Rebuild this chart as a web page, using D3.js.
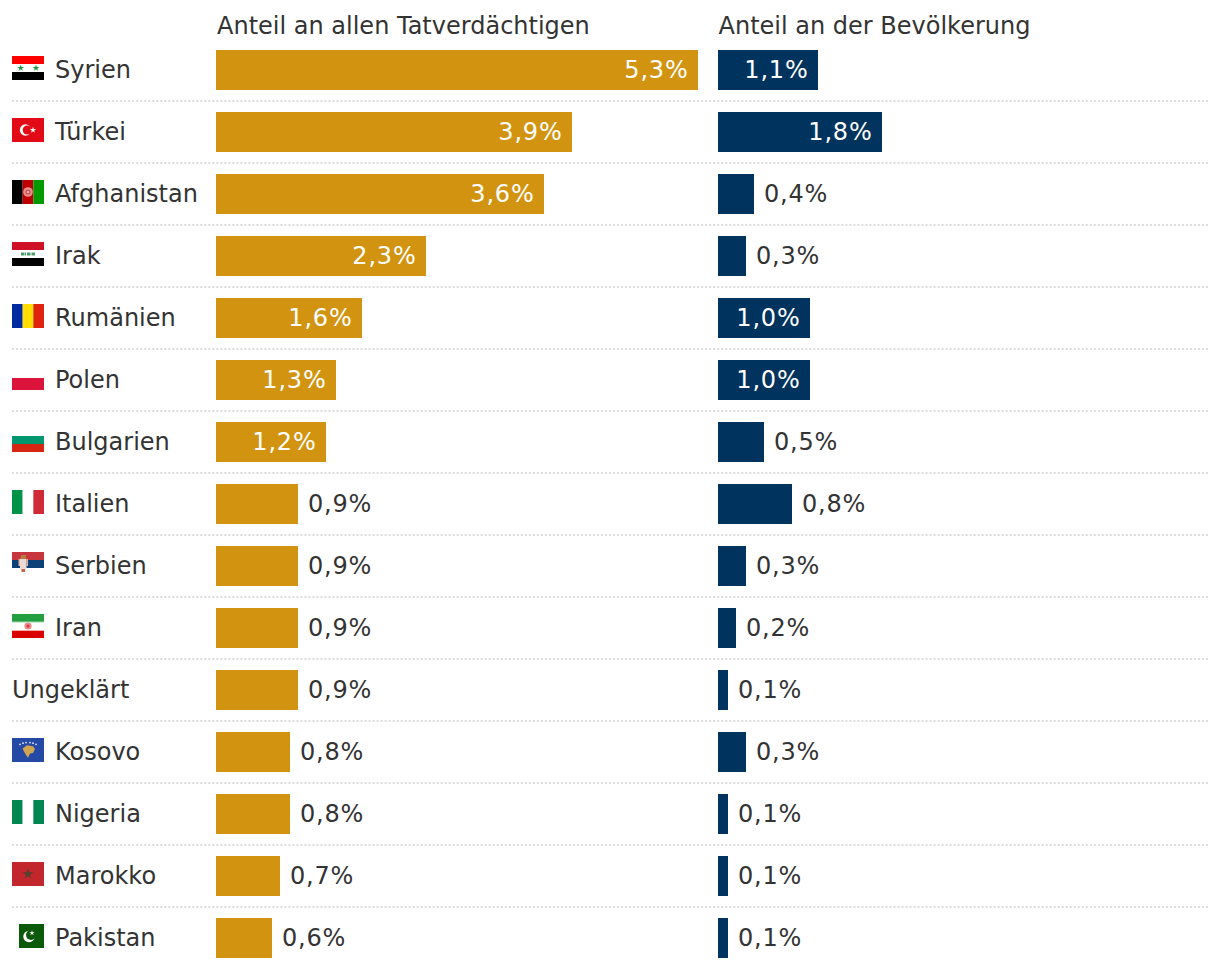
<!DOCTYPE html>
<html><head><meta charset="utf-8">
<style>html,body{margin:0;padding:0;background:#fff}svg{display:block}</style>
<script src="https://cdn.jsdelivr.net/npm/d3@7"></script></head><body>
<svg id="c" width="1220" height="968"></svg>
<script>
const countries=["Syrien","Türkei","Afghanistan","Irak","Rumänien","Polen","Bulgarien","Italien","Serbien","Iran","Ungeklärt","Kosovo","Nigeria","Marokko","Pakistan"];
const suspects=[5.3,3.91,3.61,2.31,1.6,1.32,1.21,0.9,0.9,0.9,0.9,0.81,0.81,0.7,0.62];
const population=[1.1,1.8,0.4,0.31,1.01,1.01,0.51,0.81,0.31,0.2,0.11,0.31,0.11,0.11,0.11];
const headers=["Anteil an allen Tatverdächtigen","Anteil an der Bevölkerung"];
const flagCodes=["sy","tr","af","iq","ro","pl","bg","it","rs","ir",null,"xk","ng","ma","pk"];

const svg=d3.select("#c");
const font="'DejaVu Sans',Verdana,sans-serif";
const y=d3.scalePoint().domain(countries).range([50,918]);
const xL=d3.scaleLinear().domain([0,5.3]).rangeRound([216,698]);
const xR=d3.scaleLinear().domain([0,1.1]).rangeRound([718,818]);
const fmt=v=>d3.format(".1f")(v).replace(".",",")+"%";
const txt=(g,x,yy,s,fill,anchor,ls)=>g.append("text").attr("x",x).attr("y",yy).attr("fill",fill||"#333")
  .attr("text-anchor",anchor||"start").attr("font-family",font).attr("font-size",24).attr("letter-spacing",ls||0).text(s);

txt(svg,217,34,headers[0]);
txt(svg,718.5,34,headers[1]);

// separators
svg.selectAll("line.sep").data(countries.slice(0,-1)).join("line").attr("class","sep")
 .attr("x1",12).attr("x2",1208).attr("y1",d=>y(d)+51).attr("y2",d=>y(d)+51)
 .attr("stroke","#dddddd").attr("stroke-width",2).attr("stroke-dasharray","2 2.0067");

// flag painters
const rects=(g,cols,vertical)=>{const n=cols.length;cols.forEach((c,i)=>{
  if(!c)return;
  vertical?g.append("rect").attr("x",i*32/n).attr("y",0).attr("width",32/n).attr("height",24).attr("fill",c)
          :g.append("rect").attr("x",0).attr("y",i*24/n).attr("width",32).attr("height",24/n).attr("fill",c);});};
const star=(g,x,yy,r,c)=>g.append("path").attr("transform",`translate(${x},${yy})`).attr("d",d3.symbol(d3.symbolStar,r*r*3)()).attr("fill",c);
const flags={
 sy:g=>{rects(g,["#f00","#fff","#000"]);star(g,8.7,12,2.2,"#1a9b3c");star(g,24,12,2.2,"#1a9b3c");},
 tr:g=>{rects(g,["#e30a17"]);g.append("circle").attr("cx",13.5).attr("cy",12).attr("r",5.7).attr("fill","#fff");
   g.append("circle").attr("cx",15.2).attr("cy",12).attr("r",4.5).attr("fill","#e30a17");star(g,21,12,2,"#fff");},
 af:g=>{rects(g,["#000","#be0000","#009a00"],true);g.append("circle").attr("cx",16).attr("cy",12).attr("r",4.8).attr("fill","#e89090");g.append("circle").attr("cx",16).attr("cy",12).attr("r",2.6).attr("fill","#d05050");g.append("circle").attr("cx",16).attr("cy",12).attr("r",1.2).attr("fill","#f0b0b0");},
 iq:g=>{rects(g,["#ce1126","#fff","#000"]);[[9,3],[12.5,1.5],[15,3.5],[19.5,3.5]].forEach(p=>g.append("rect").attr("x",p[0]).attr("y",10.5).attr("width",p[1]).attr("height",3).attr("fill","#4d9c6c"));},
 ro:g=>rects(g,["#002b9f","#fedd00","#e0230f"],true),
 pl:g=>rects(g,["#fff","#dc143c"]),
 bg:g=>rects(g,["#fff","#00966e","#d62612"]),
 it:g=>rects(g,["#009246","#fff","#ce2b37"],true),
 rs:g=>{rects(g,["#c6363c","#0c4076","#fff"]);
   g.append("rect").attr("x",8).attr("y",6).attr("width",6.5).attr("height",12).attr("rx",2).attr("fill","#ecd9d4");
   g.append("rect").attr("x",9).attr("y",3).attr("width",5).attr("height",4).attr("fill","#b87a3a");
   g.append("rect").attr("x",6.5).attr("y",7).attr("width",1.5).attr("height",7).attr("fill","#e0b8a8");
   g.append("rect").attr("x",14.5).attr("y",7).attr("width",1.5).attr("height",7).attr("fill","#e0b8a8");
   g.append("rect").attr("x",9.5).attr("y",17).attr("width",3.5).attr("height",3).attr("fill","#c9654a");},
 ir:g=>{rects(g,["#239f40","#fff","#da0000"]);g.append("circle").attr("cx",16).attr("cy",12).attr("r",3.6).attr("fill","#ec8a8a");
   g.append("circle").attr("cx",16).attr("cy",12).attr("r",1.6).attr("fill","#d83a3a");
   g.append("rect").attr("y",7.5).attr("width",32).attr("height",1).attr("fill","#9fd6ab");
   g.append("rect").attr("y",16).attr("width",32).attr("height",1).attr("fill","#f5a8a8");},
 xk:g=>{rects(g,["#244aa5"]);g.append("path").attr("d","M10.6 10.5L15 7.2L21 8.2L23 11L21 15L18 15.5L16 19.7L14 17L12 13.5Z").attr("fill","#d0a650");
   [[8,6.3],[11,5.2],[14,4.6],[18,4.6],[21,5.2],[24,6.3]].forEach(p=>g.append("circle").attr("cx",p[0]).attr("cy",p[1]).attr("r",.9).attr("fill","#dfe6f5"));},
 ng:g=>rects(g,["#008751","#fff","#008751"],true),
 ma:g=>{rects(g,["#c1272d"]);star(g,16,12,3.4,"#54402f");},
 pk:g=>{g.append("rect").attr("x",7).attr("width",25).attr("height",24).attr("fill","#0b5a0b");
   g.append("circle").attr("cx",17).attr("cy",12.5).attr("r",5.7).attr("fill","#fff");
   g.append("circle").attr("cx",19).attr("cy",11).attr("r",5).attr("fill","#0b5a0b");star(g,20,9,1.7,"#fff");}
};

const rows=svg.selectAll("g.row").data(countries).join("g").attr("class","row").attr("transform",d=>`translate(0,${y(d)})`);
rows.each(function(d,i){
  const g=d3.select(this);
  const code=flagCodes[i];
  if(code){ flags[code](g.append("g").attr("transform","translate(12,6)"));
    txt(g,55,28,d);
  } else txt(g,12,28,d);
  const s=suspects[i],p=population[i];
  const LS=0.8;
  g.append("rect").attr("x",xL(0)).attr("y",0).attr("width",xL(s)-xL(0)).attr("height",40).attr("fill","#d29410");
  g.append("rect").attr("x",xR(0)).attr("y",0).attr("width",xR(p)-xR(0)).attr("height",40).attr("fill","#00335e");
  if(s>=1) txt(g,xL(s)-9.5,28,fmt(s),"#fff","end",LS); else txt(g,xL(s)+10,28,fmt(s),null,null,LS);
  if(p>=1&&i!==6) txt(g,xR(p)-9.5,28,fmt(p),"#fff","end",LS); else txt(g,xR(p)+10,28,fmt(p),null,null,LS);
});
</script></body></html>
